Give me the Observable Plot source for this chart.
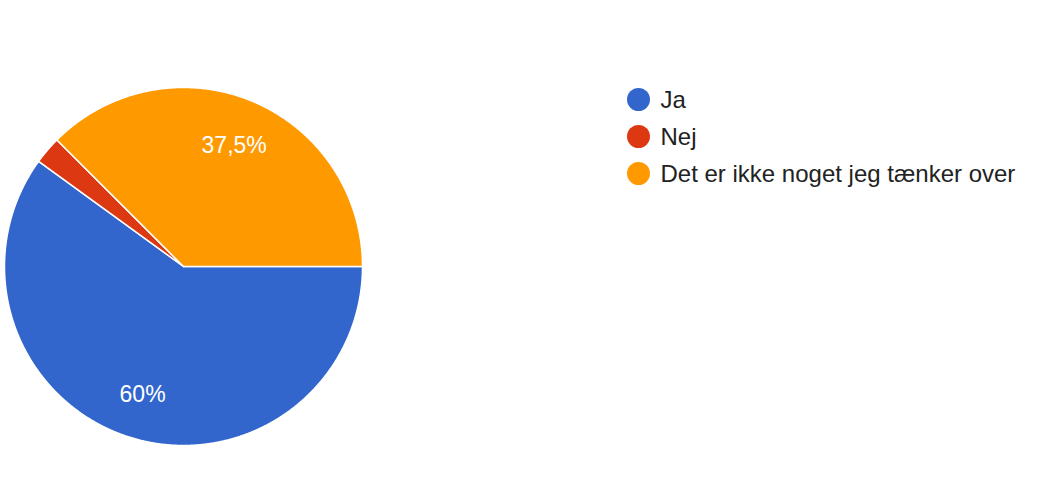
<!DOCTYPE html>
<html>
<head>
<meta charset="utf-8">
<script src="https://cdn.jsdelivr.net/npm/d3@7"></script>
<script src="https://cdn.jsdelivr.net/npm/@observablehq/plot@0.6"></script>
<style>
  html, body { margin: 0; padding: 0; background: #fff; }
  #wrap { position: relative; width: 1041px; height: 492px; font-family: "Liberation Sans", Arial, Helvetica, sans-serif; }
  #legend { position: absolute; left: 627px; top: 80.5px; }
  .row { display: flex; align-items: center; height: 37px; }
  .sw { width: 23px; height: 23px; border-radius: 50%; margin-right: 10.5px; flex: none; }
  .lab { font-size: 24px; color: #222; line-height: 37px; white-space: nowrap; }
</style>
</head>
<body>
<div id="wrap"><div id="legend"></div></div>
<script>
const categories = ["Ja", "Nej", "Det er ikke noget jeg tænker over"];
const values = [60, 2.5, 37.5];
const percentLabels = ["60%", "2,5%", "37,5%"];
const colors = ["#3366cc", "#dc3912", "#ff9900"];

const data = categories.map((c, i) => ({label: c, value: values[i], text: percentLabels[i]}));

// pie layout: start at 3 o'clock (90° clockwise from north), go clockwise
const pie = d3.pie().value(d => d.value).sort(null)
  .startAngle(Math.PI / 2).endAngle(Math.PI / 2 + 2 * Math.PI);
const arcs = pie(data);

const poly = [];
arcs.forEach(a => {
  const name = a.data.label;
  poly.push({label: name, x: 0, y: 0});
  const n = Math.max(4, Math.ceil((a.endAngle - a.startAngle) / 0.005));
  for (let k = 0; k <= n; k++) {
    const t = a.startAngle + (a.endAngle - a.startAngle) * k / n;
    poly.push({label: name, x: Math.sin(t), y: Math.cos(t)});
  }
  poly.push({label: name, x: 0, y: 0});
});

const labelR = 0.74;
const labels = arcs.filter(a => a.data.value >= 5).map(a => {
  const m = (a.startAngle + a.endAngle) / 2;
  return {text: a.data.text, x: labelR * Math.sin(m), y: labelR * Math.cos(m)};
});

const chart = Plot.plot({
  width: 1041,
  height: 492,
  marginLeft: 4,
  marginRight: 679,
  marginTop: 87,
  marginBottom: 47,
  x: {domain: [-1, 1], axis: null},
  y: {domain: [-1, 1], axis: null},
  color: {domain: categories, range: colors},
  style: {fontFamily: '"Liberation Sans", Arial, sans-serif', background: "transparent"},
  marks: [
    Plot.line(poly, {x: "x", y: "y", z: "label", fill: "label", stroke: "white", strokeWidth: 1.5, curve: "linear", strokeLinejoin: "round"}),
    Plot.text(labels, {x: "x", y: "y", text: "text", fill: "white", fontSize: 23, textAnchor: "middle", dy: 2})
  ]
});
const wrap = document.getElementById("wrap");
wrap.insertBefore(chart, wrap.firstChild);

const legend = document.getElementById("legend");
categories.forEach((c, i) => {
  const row = document.createElement("div");
  row.className = "row";
  const sw = document.createElement("div");
  sw.className = "sw";
  sw.style.background = colors[i];
  const lab = document.createElement("div");
  lab.className = "lab";
  lab.textContent = c;
  row.appendChild(sw);
  row.appendChild(lab);
  legend.appendChild(row);
});
</script>
</body>
</html>
